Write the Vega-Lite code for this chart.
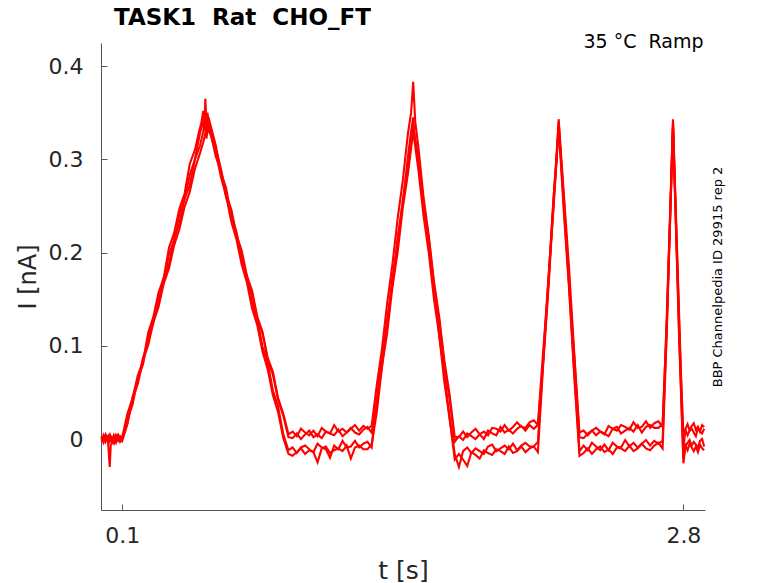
{
  "$schema": "https://vega.github.io/schema/vega-lite/v6.json",
  "description": "Ramp protocol current traces, TASK1 Rat CHO_FT",
  "width": 604,
  "height": 467,
  "autosize": {"type": "none"},
  "padding": {"left": 101, "top": 43, "right": 73, "bottom": 73},
  "background": "white",
  "config": {
    "view": {"stroke": null},
    "font": "DejaVu Sans",
    "axis": {"grid": false, "labelFont": "DejaVu Sans", "titleFont": "DejaVu Sans", "titleFontWeight": "normal"}
  },
  "title": {
    "text": "TASK1\u00a0\u00a0Rat\u00a0\u00a0CHO_FT",
    "anchor": "start",
    "frame": "group",
    "font": "DejaVu Sans",
    "fontSize": 23,
    "fontWeight": "bold",
    "color": "black",
    "baseline": "alphabetic",
    "dx": 13,
    "dy": 32,
    "offset": 16
  },
  "data": {
    "values": [
      {"k":"A","t":0,"i":0.003},{"k":"A","t":0.01,"i":-0.002},{"k":"A","t":0.02,"i":0.005},{"k":"A","t":0.03,"i":0.001},{"k":"A","t":0.04,"i":-0.003},{"k":"A","t":0.05,"i":0.002},{"k":"A","t":0.06,"i":-0.004},{"k":"A","t":0.07,"i":0.004},{"k":"A","t":0.08,"i":0.0},{"k":"A","t":0.09,"i":-0.002},{"k":"A","t":0.1,"i":0.002},
      {"k":"A","t":0.125,"i":0.027},{"k":"A","t":0.15,"i":0.044},{"k":"A","t":0.175,"i":0.068},{"k":"A","t":0.2,"i":0.083},{"k":"A","t":0.225,"i":0.114},{"k":"A","t":0.25,"i":0.131},{"k":"A","t":0.275,"i":0.157},{"k":"A","t":0.3,"i":0.173},{"k":"A","t":0.325,"i":0.205},{"k":"A","t":0.35,"i":0.221},{"k":"A","t":0.375,"i":0.247},{"k":"A","t":0.4,"i":0.263},{"k":"A","t":0.425,"i":0.295},{"k":"A","t":0.45,"i":0.31},{"k":"A","t":0.47,"i":0.33},{"k":"A","t":0.48,"i":0.338},{"k":"A","t":0.49,"i":0.352},{"k":"A","t":0.495,"i":0.33},{"k":"A","t":0.5,"i":0.365},{"k":"A","t":0.505,"i":0.34},{"k":"A","t":0.51,"i":0.35},{"k":"A","t":0.52,"i":0.335},
      {"k":"A","t":0.55,"i":0.312},{"k":"A","t":0.575,"i":0.29},{"k":"A","t":0.6,"i":0.262},{"k":"A","t":0.625,"i":0.246},{"k":"A","t":0.65,"i":0.219},{"k":"A","t":0.675,"i":0.202},{"k":"A","t":0.7,"i":0.175},{"k":"A","t":0.725,"i":0.159},{"k":"A","t":0.75,"i":0.131},{"k":"A","t":0.775,"i":0.115},{"k":"A","t":0.8,"i":0.087},{"k":"A","t":0.825,"i":0.072},{"k":"A","t":0.85,"i":0.044},{"k":"A","t":0.875,"i":0.027},{"k":"A","t":0.9,"i":0.005},
      {"k":"A","t":0.92,"i":0.008},{"k":"A","t":0.94,"i":0.003},{"k":"A","t":0.96,"i":0.011},{"k":"A","t":0.98,"i":0.007},{"k":"A","t":1.0,"i":0.004},{"k":"A","t":1.02,"i":0.009},{"k":"A","t":1.04,"i":0.003},{"k":"A","t":1.06,"i":0.012},{"k":"A","t":1.08,"i":0.008},{"k":"A","t":1.1,"i":0.006},{"k":"A","t":1.12,"i":0.015},{"k":"A","t":1.14,"i":0.008},{"k":"A","t":1.16,"i":0.011},{"k":"A","t":1.18,"i":0.007},{"k":"A","t":1.2,"i":0.011},{"k":"A","t":1.22,"i":0.015},{"k":"A","t":1.24,"i":0.009},{"k":"A","t":1.26,"i":0.014},{"k":"A","t":1.28,"i":0.011},{"k":"A","t":1.3,"i":0.014},
      {"k":"A","t":1.325,"i":0.058},{"k":"A","t":1.35,"i":0.097},{"k":"A","t":1.375,"i":0.146},{"k":"A","t":1.4,"i":0.187},{"k":"A","t":1.425,"i":0.236},{"k":"A","t":1.45,"i":0.277},{"k":"A","t":1.475,"i":0.328},{"k":"A","t":1.49,"i":0.35},{"k":"A","t":1.5,"i":0.383},{"k":"A","t":1.51,"i":0.34},{"k":"A","t":1.525,"i":0.313},{"k":"A","t":1.55,"i":0.259},{"k":"A","t":1.575,"i":0.218},{"k":"A","t":1.6,"i":0.169},{"k":"A","t":1.625,"i":0.131},{"k":"A","t":1.65,"i":0.084},{"k":"A","t":1.675,"i":0.048},{"k":"A","t":1.7,"i":0.002},
      {"k":"A","t":1.72,"i":0.002},{"k":"A","t":1.74,"i":0.008},{"k":"A","t":1.76,"i":0.002},{"k":"A","t":1.78,"i":0.007},{"k":"A","t":1.8,"i":0.011},{"k":"A","t":1.82,"i":0.005},{"k":"A","t":1.84,"i":0.008},{"k":"A","t":1.86,"i":0.004},{"k":"A","t":1.88,"i":0.012},{"k":"A","t":1.9,"i":0.011},{"k":"A","t":1.92,"i":0.008},{"k":"A","t":1.94,"i":0.015},{"k":"A","t":1.96,"i":0.009},{"k":"A","t":1.98,"i":0.013},{"k":"A","t":2.0,"i":0.018},{"k":"A","t":2.02,"i":0.013},{"k":"A","t":2.04,"i":0.012},{"k":"A","t":2.06,"i":0.018},{"k":"A","t":2.08,"i":0.02},{"k":"A","t":2.1,"i":0.015},
      {"k":"A","t":2.125,"i":0.093},{"k":"A","t":2.15,"i":0.167},{"k":"A","t":2.175,"i":0.258},{"k":"A","t":2.19,"i":0.3},{"k":"A","t":2.2,"i":0.343},{"k":"A","t":2.21,"i":0.31},{"k":"A","t":2.225,"i":0.262},{"k":"A","t":2.25,"i":0.183},{"k":"A","t":2.275,"i":0.092},{"k":"A","t":2.3,"i":0.007},
      {"k":"A","t":2.32,"i":0.009},{"k":"A","t":2.34,"i":0.004},{"k":"A","t":2.36,"i":0.009},{"k":"A","t":2.38,"i":0.012},{"k":"A","t":2.4,"i":0.008},{"k":"A","t":2.42,"i":0.005},{"k":"A","t":2.44,"i":0.014},{"k":"A","t":2.46,"i":0.011},{"k":"A","t":2.48,"i":0.009},{"k":"A","t":2.5,"i":0.015},{"k":"A","t":2.52,"i":0.013},{"k":"A","t":2.54,"i":0.01},{"k":"A","t":2.56,"i":0.018},{"k":"A","t":2.58,"i":0.012},{"k":"A","t":2.6,"i":0.013},{"k":"A","t":2.62,"i":0.019},{"k":"A","t":2.64,"i":0.012},{"k":"A","t":2.66,"i":0.017},{"k":"A","t":2.68,"i":0.019},{"k":"A","t":2.7,"i":0.013},
      {"k":"A","t":2.71,"i":0.07},{"k":"A","t":2.72,"i":0.13},{"k":"A","t":2.73,"i":0.2},{"k":"A","t":2.74,"i":0.27},{"k":"A","t":2.75,"i":0.343},{"k":"A","t":2.76,"i":0.27},{"k":"A","t":2.77,"i":0.2},{"k":"A","t":2.78,"i":0.13},{"k":"A","t":2.79,"i":0.06},{"k":"A","t":2.8,"i":0.005},
      {"k":"A","t":2.81,"i":0.011},{"k":"A","t":2.82,"i":0.016},{"k":"A","t":2.83,"i":0.009},{"k":"A","t":2.84,"i":0.014},{"k":"A","t":2.85,"i":0.017},{"k":"A","t":2.86,"i":0.01},{"k":"A","t":2.87,"i":0.013},{"k":"A","t":2.88,"i":0.008},{"k":"A","t":2.89,"i":0.015},{"k":"A","t":2.9,"i":0.013},

      {"k":"B","t":0,"i":-0.001},{"k":"B","t":0.01,"i":0.004},{"k":"B","t":0.02,"i":-0.003},{"k":"B","t":0.03,"i":0.002},{"k":"B","t":0.04,"i":0.005},{"k":"B","t":0.05,"i":-0.002},{"k":"B","t":0.06,"i":0.001},{"k":"B","t":0.07,"i":-0.004},{"k":"B","t":0.08,"i":0.003},{"k":"B","t":0.09,"i":0.001},{"k":"B","t":0.1,"i":-0.002},
      {"k":"B","t":0.125,"i":0.016},{"k":"B","t":0.15,"i":0.045},{"k":"B","t":0.175,"i":0.062},{"k":"B","t":0.2,"i":0.087},{"k":"B","t":0.225,"i":0.103},{"k":"B","t":0.25,"i":0.13},{"k":"B","t":0.275,"i":0.146},{"k":"B","t":0.3,"i":0.173},{"k":"B","t":0.325,"i":0.187},{"k":"B","t":0.35,"i":0.215},{"k":"B","t":0.375,"i":0.231},{"k":"B","t":0.4,"i":0.258},{"k":"B","t":0.425,"i":0.272},{"k":"B","t":0.45,"i":0.3},{"k":"B","t":0.475,"i":0.315},{"k":"B","t":0.49,"i":0.33},{"k":"B","t":0.5,"i":0.342},{"k":"B","t":0.51,"i":0.328},{"k":"B","t":0.52,"i":0.334},
      {"k":"B","t":0.55,"i":0.303},{"k":"B","t":0.575,"i":0.288},{"k":"B","t":0.6,"i":0.259},{"k":"B","t":0.625,"i":0.243},{"k":"B","t":0.65,"i":0.216},{"k":"B","t":0.675,"i":0.199},{"k":"B","t":0.7,"i":0.173},{"k":"B","t":0.725,"i":0.156},{"k":"B","t":0.75,"i":0.129},{"k":"B","t":0.775,"i":0.113},{"k":"B","t":0.8,"i":0.085},{"k":"B","t":0.825,"i":0.069},{"k":"B","t":0.85,"i":0.042},{"k":"B","t":0.875,"i":0.025},{"k":"B","t":0.9,"i":0.002},
      {"k":"B","t":0.92,"i":0.001},{"k":"B","t":0.94,"i":0.006},{"k":"B","t":0.96,"i":0.0},{"k":"B","t":0.98,"i":0.005},{"k":"B","t":1.0,"i":0.009},{"k":"B","t":1.02,"i":0.002},{"k":"B","t":1.04,"i":0.005},{"k":"B","t":1.06,"i":0.001},{"k":"B","t":1.08,"i":0.008},{"k":"B","t":1.1,"i":0.006},{"k":"B","t":1.12,"i":0.004},{"k":"B","t":1.14,"i":0.01},{"k":"B","t":1.16,"i":0.003},{"k":"B","t":1.18,"i":0.007},{"k":"B","t":1.2,"i":0.012},{"k":"B","t":1.22,"i":0.007},{"k":"B","t":1.24,"i":0.005},{"k":"B","t":1.26,"i":0.01},{"k":"B","t":1.28,"i":0.013},{"k":"B","t":1.3,"i":0.007},
      {"k":"B","t":1.325,"i":0.042},{"k":"B","t":1.35,"i":0.09},{"k":"B","t":1.375,"i":0.125},{"k":"B","t":1.4,"i":0.173},{"k":"B","t":1.425,"i":0.207},{"k":"B","t":1.45,"i":0.256},{"k":"B","t":1.475,"i":0.291},{"k":"B","t":1.5,"i":0.335},{"k":"B","t":1.51,"i":0.32},{"k":"B","t":1.525,"i":0.301},{"k":"B","t":1.55,"i":0.252},{"k":"B","t":1.575,"i":0.215},{"k":"B","t":1.6,"i":0.165},{"k":"B","t":1.625,"i":0.128},{"k":"B","t":1.65,"i":0.08},{"k":"B","t":1.675,"i":0.043},{"k":"B","t":1.7,"i":-0.003},
      {"k":"B","t":1.72,"i":0.003},{"k":"B","t":1.74,"i":-0.001},{"k":"B","t":1.76,"i":0.006},{"k":"B","t":1.78,"i":0.003},{"k":"B","t":1.8,"i":0.0},{"k":"B","t":1.82,"i":0.005},{"k":"B","t":1.84,"i":0.0},{"k":"B","t":1.86,"i":0.009},{"k":"B","t":1.88,"i":0.006},{"k":"B","t":1.9,"i":0.004},{"k":"B","t":1.92,"i":0.013},{"k":"B","t":1.94,"i":0.007},{"k":"B","t":1.96,"i":0.01},{"k":"B","t":1.98,"i":0.006},{"k":"B","t":2.0,"i":0.011},{"k":"B","t":2.02,"i":0.014},{"k":"B","t":2.04,"i":0.009},{"k":"B","t":2.06,"i":0.015},{"k":"B","t":2.08,"i":0.011},{"k":"B","t":2.1,"i":0.015},
      {"k":"B","t":2.125,"i":0.082},{"k":"B","t":2.15,"i":0.171},{"k":"B","t":2.175,"i":0.247},{"k":"B","t":2.2,"i":0.335},{"k":"B","t":2.225,"i":0.258},{"k":"B","t":2.25,"i":0.167},{"k":"B","t":2.275,"i":0.088},{"k":"B","t":2.3,"i":0.002},
      {"k":"B","t":2.32,"i":0.001},{"k":"B","t":2.34,"i":0.006},{"k":"B","t":2.36,"i":0.009},{"k":"B","t":2.38,"i":0.004},{"k":"B","t":2.4,"i":0.008},{"k":"B","t":2.42,"i":0.006},{"k":"B","t":2.44,"i":0.003},{"k":"B","t":2.46,"i":0.011},{"k":"B","t":2.48,"i":0.013},{"k":"B","t":2.5,"i":0.006},{"k":"B","t":2.52,"i":0.009},{"k":"B","t":2.54,"i":0.012},{"k":"B","t":2.56,"i":0.008},{"k":"B","t":2.58,"i":0.015},{"k":"B","t":2.6,"i":0.007},{"k":"B","t":2.62,"i":0.013},{"k":"B","t":2.64,"i":0.015},{"k":"B","t":2.66,"i":0.012},{"k":"B","t":2.68,"i":0.012},{"k":"B","t":2.7,"i":0.016},
      {"k":"B","t":2.72,"i":0.125},{"k":"B","t":2.735,"i":0.23},{"k":"B","t":2.75,"i":0.335},{"k":"B","t":2.765,"i":0.23},{"k":"B","t":2.78,"i":0.12},{"k":"B","t":2.8,"i":-0.01},
      {"k":"B","t":2.81,"i":0.01},{"k":"B","t":2.82,"i":0.004},{"k":"B","t":2.83,"i":0.009},{"k":"B","t":2.84,"i":0.011},{"k":"B","t":2.85,"i":0.007},{"k":"B","t":2.86,"i":0.003},{"k":"B","t":2.87,"i":0.012},{"k":"B","t":2.88,"i":0.008},{"k":"B","t":2.89,"i":0.006},{"k":"B","t":2.9,"i":0.011},

      {"k":"C","t":0,"i":0.002},{"k":"C","t":0.01,"i":-0.004},{"k":"C","t":0.02,"i":0.001},{"k":"C","t":0.03,"i":0.003},{"k":"C","t":0.04,"i":-0.03},{"k":"C","t":0.045,"i":-0.006},{"k":"C","t":0.05,"i":-0.005},{"k":"C","t":0.06,"i":0.004},{"k":"C","t":0.07,"i":0.0},{"k":"C","t":0.08,"i":-0.002},{"k":"C","t":0.09,"i":0.003},{"k":"C","t":0.1,"i":0.001},
      {"k":"C","t":0.125,"i":0.021},{"k":"C","t":0.15,"i":0.037},{"k":"C","t":0.175,"i":0.065},{"k":"C","t":0.2,"i":0.08},{"k":"C","t":0.225,"i":0.11},{"k":"C","t":0.25,"i":0.125},{"k":"C","t":0.275,"i":0.151},{"k":"C","t":0.3,"i":0.168},{"k":"C","t":0.325,"i":0.198},{"k":"C","t":0.35,"i":0.213},{"k":"C","t":0.375,"i":0.241},{"k":"C","t":0.4,"i":0.257},{"k":"C","t":0.425,"i":0.283},{"k":"C","t":0.45,"i":0.3},{"k":"C","t":0.475,"i":0.329},{"k":"C","t":0.49,"i":0.34},{"k":"C","t":0.5,"i":0.35},{"k":"C","t":0.505,"i":0.322},{"k":"C","t":0.515,"i":0.345},
      {"k":"C","t":0.55,"i":0.315},{"k":"C","t":0.575,"i":0.286},{"k":"C","t":0.6,"i":0.269},{"k":"C","t":0.625,"i":0.239},{"k":"C","t":0.65,"i":0.222},{"k":"C","t":0.675,"i":0.192},{"k":"C","t":0.7,"i":0.175},{"k":"C","t":0.725,"i":0.146},{"k":"C","t":0.75,"i":0.128},{"k":"C","t":0.775,"i":0.099},{"k":"C","t":0.8,"i":0.082},{"k":"C","t":0.825,"i":0.052},{"k":"C","t":0.85,"i":0.035},{"k":"C","t":0.875,"i":0.005},{"k":"C","t":0.9,"i":-0.012},
      {"k":"C","t":0.92,"i":-0.009},{"k":"C","t":0.94,"i":-0.015},{"k":"C","t":0.96,"i":-0.009},{"k":"C","t":0.98,"i":-0.007},{"k":"C","t":1.0,"i":-0.011},{"k":"C","t":1.02,"i":-0.014},{"k":"C","t":1.04,"i":-0.005},{"k":"C","t":1.06,"i":-0.009},{"k":"C","t":1.08,"i":-0.011},{"k":"C","t":1.1,"i":-0.02},{"k":"C","t":1.12,"i":-0.007},{"k":"C","t":1.14,"i":-0.011},{"k":"C","t":1.16,"i":-0.002},{"k":"C","t":1.18,"i":-0.009},{"k":"C","t":1.2,"i":-0.008},{"k":"C","t":1.22,"i":-0.002},{"k":"C","t":1.24,"i":-0.009},{"k":"C","t":1.26,"i":-0.005},{"k":"C","t":1.28,"i":-0.003},{"k":"C","t":1.3,"i":-0.009},
      {"k":"C","t":1.325,"i":0.04},{"k":"C","t":1.35,"i":0.078},{"k":"C","t":1.375,"i":0.128},{"k":"C","t":1.4,"i":0.166},{"k":"C","t":1.425,"i":0.216},{"k":"C","t":1.45,"i":0.254},{"k":"C","t":1.475,"i":0.303},{"k":"C","t":1.49,"i":0.33},{"k":"C","t":1.5,"i":0.345},{"k":"C","t":1.505,"i":0.33},{"k":"C","t":1.525,"i":0.295},{"k":"C","t":1.55,"i":0.255},{"k":"C","t":1.575,"i":0.203},{"k":"C","t":1.6,"i":0.163},{"k":"C","t":1.625,"i":0.111},{"k":"C","t":1.65,"i":0.071},{"k":"C","t":1.675,"i":0.022},{"k":"C","t":1.7,"i":-0.016},
      {"k":"C","t":1.72,"i":-0.03},{"k":"C","t":1.74,"i":-0.013},{"k":"C","t":1.76,"i":-0.009},{"k":"C","t":1.78,"i":-0.015},{"k":"C","t":1.8,"i":-0.01},{"k":"C","t":1.82,"i":-0.013},{"k":"C","t":1.84,"i":-0.016},{"k":"C","t":1.86,"i":-0.008},{"k":"C","t":1.88,"i":-0.006},{"k":"C","t":1.9,"i":-0.013},{"k":"C","t":1.92,"i":-0.01},{"k":"C","t":1.94,"i":-0.007},{"k":"C","t":1.96,"i":-0.011},{"k":"C","t":1.98,"i":-0.005},{"k":"C","t":2.0,"i":-0.012},{"k":"C","t":2.02,"i":-0.007},{"k":"C","t":2.04,"i":-0.004},{"k":"C","t":2.06,"i":-0.008},{"k":"C","t":2.08,"i":-0.008},{"k":"C","t":2.1,"i":-0.003},
      {"k":"C","t":2.125,"i":0.083},{"k":"C","t":2.15,"i":0.163},{"k":"C","t":2.175,"i":0.256},{"k":"C","t":2.2,"i":0.34},{"k":"C","t":2.225,"i":0.249},{"k":"C","t":2.25,"i":0.166},{"k":"C","t":2.275,"i":0.071},{"k":"C","t":2.3,"i":-0.013},
      {"k":"C","t":2.32,"i":-0.007},{"k":"C","t":2.34,"i":-0.012},{"k":"C","t":2.36,"i":-0.004},{"k":"C","t":2.38,"i":-0.008},{"k":"C","t":2.4,"i":-0.012},{"k":"C","t":2.42,"i":-0.006},{"k":"C","t":2.44,"i":-0.012},{"k":"C","t":2.46,"i":-0.004},{"k":"C","t":2.48,"i":-0.008},{"k":"C","t":2.5,"i":-0.009},{"k":"C","t":2.52,"i":-0.001},{"k":"C","t":2.54,"i":-0.008},{"k":"C","t":2.56,"i":-0.004},{"k":"C","t":2.58,"i":-0.009},{"k":"C","t":2.6,"i":-0.005},{"k":"C","t":2.62,"i":-0.001},{"k":"C","t":2.64,"i":-0.007},{"k":"C","t":2.66,"i":-0.002},{"k":"C","t":2.68,"i":-0.005},{"k":"C","t":2.7,"i":-0.002},
      {"k":"C","t":2.72,"i":0.12},{"k":"C","t":2.735,"i":0.23},{"k":"C","t":2.75,"i":0.34},{"k":"C","t":2.765,"i":0.225},{"k":"C","t":2.78,"i":0.11},{"k":"C","t":2.8,"i":-0.026},
      {"k":"C","t":2.81,"i":-0.008},{"k":"C","t":2.82,"i":-0.004},{"k":"C","t":2.83,"i":-0.001},{"k":"C","t":2.84,"i":-0.007},{"k":"C","t":2.85,"i":-0.003},{"k":"C","t":2.86,"i":-0.006},{"k":"C","t":2.87,"i":-0.009},{"k":"C","t":2.88,"i":-0.002},{"k":"C","t":2.89,"i":0.0},{"k":"C","t":2.9,"i":-0.008},

      {"k":"D","t":0,"i":-0.003},{"k":"D","t":0.01,"i":0.001},{"k":"D","t":0.02,"i":0.004},{"k":"D","t":0.03,"i":-0.002},{"k":"D","t":0.04,"i":0.002},{"k":"D","t":0.05,"i":-0.001},{"k":"D","t":0.06,"i":-0.004},{"k":"D","t":0.07,"i":0.003},{"k":"D","t":0.08,"i":0.005},{"k":"D","t":0.09,"i":-0.003},{"k":"D","t":0.1,"i":0.0},
      {"k":"D","t":0.125,"i":0.017},{"k":"D","t":0.15,"i":0.043},{"k":"D","t":0.175,"i":0.059},{"k":"D","t":0.2,"i":0.084},{"k":"D","t":0.225,"i":0.101},{"k":"D","t":0.25,"i":0.125},{"k":"D","t":0.275,"i":0.142},{"k":"D","t":0.3,"i":0.167},{"k":"D","t":0.325,"i":0.183},{"k":"D","t":0.35,"i":0.208},{"k":"D","t":0.375,"i":0.225},{"k":"D","t":0.4,"i":0.249},{"k":"D","t":0.425,"i":0.265},{"k":"D","t":0.45,"i":0.29},{"k":"D","t":0.475,"i":0.307},{"k":"D","t":0.49,"i":0.318},{"k":"D","t":0.5,"i":0.328},{"k":"D","t":0.51,"i":0.338},{"k":"D","t":0.52,"i":0.33},
      {"k":"D","t":0.55,"i":0.308},{"k":"D","t":0.575,"i":0.281},{"k":"D","t":0.6,"i":0.261},{"k":"D","t":0.625,"i":0.233},{"k":"D","t":0.65,"i":0.214},{"k":"D","t":0.675,"i":0.187},{"k":"D","t":0.7,"i":0.168},{"k":"D","t":0.725,"i":0.14},{"k":"D","t":0.75,"i":0.122},{"k":"D","t":0.775,"i":0.094},{"k":"D","t":0.8,"i":0.075},{"k":"D","t":0.825,"i":0.047},{"k":"D","t":0.85,"i":0.029},{"k":"D","t":0.875,"i":0.001},{"k":"D","t":0.9,"i":-0.016},
      {"k":"D","t":0.92,"i":-0.018},{"k":"D","t":0.94,"i":-0.014},{"k":"D","t":0.96,"i":-0.01},{"k":"D","t":0.98,"i":-0.016},{"k":"D","t":1.0,"i":-0.012},{"k":"D","t":1.02,"i":-0.014},{"k":"D","t":1.04,"i":-0.025},{"k":"D","t":1.06,"i":-0.01},{"k":"D","t":1.08,"i":-0.008},{"k":"D","t":1.1,"i":-0.015},{"k":"D","t":1.12,"i":-0.012},{"k":"D","t":1.14,"i":-0.01},{"k":"D","t":1.16,"i":-0.013},{"k":"D","t":1.18,"i":-0.007},{"k":"D","t":1.2,"i":-0.021},{"k":"D","t":1.22,"i":-0.009},{"k":"D","t":1.24,"i":-0.007},{"k":"D","t":1.26,"i":-0.011},{"k":"D","t":1.28,"i":-0.011},{"k":"D","t":1.3,"i":-0.006},
      {"k":"D","t":1.325,"i":0.029},{"k":"D","t":1.35,"i":0.078},{"k":"D","t":1.375,"i":0.114},{"k":"D","t":1.4,"i":0.163},{"k":"D","t":1.425,"i":0.2},{"k":"D","t":1.45,"i":0.248},{"k":"D","t":1.475,"i":0.285},{"k":"D","t":1.5,"i":0.33},{"k":"D","t":1.525,"i":0.289},{"k":"D","t":1.55,"i":0.239},{"k":"D","t":1.575,"i":0.2},{"k":"D","t":1.6,"i":0.15},{"k":"D","t":1.625,"i":0.112},{"k":"D","t":1.65,"i":0.061},{"k":"D","t":1.675,"i":0.023},{"k":"D","t":1.7,"i":-0.022},
      {"k":"D","t":1.72,"i":-0.016},{"k":"D","t":1.74,"i":-0.022},{"k":"D","t":1.76,"i":-0.029},{"k":"D","t":1.78,"i":-0.014},{"k":"D","t":1.8,"i":-0.017},{"k":"D","t":1.82,"i":-0.021},{"k":"D","t":1.84,"i":-0.012},{"k":"D","t":1.86,"i":-0.015},{"k":"D","t":1.88,"i":-0.017},{"k":"D","t":1.9,"i":-0.011},{"k":"D","t":1.92,"i":-0.013},{"k":"D","t":1.94,"i":-0.016},{"k":"D","t":1.96,"i":-0.008},{"k":"D","t":1.98,"i":-0.015},{"k":"D","t":2.0,"i":-0.013},{"k":"D","t":2.02,"i":-0.008},{"k":"D","t":2.04,"i":-0.014},{"k":"D","t":2.06,"i":-0.01},{"k":"D","t":2.08,"i":-0.008},{"k":"D","t":2.1,"i":-0.014},
      {"k":"D","t":2.125,"i":0.078},{"k":"D","t":2.15,"i":0.159},{"k":"D","t":2.175,"i":0.251},{"k":"D","t":2.2,"i":0.335},{"k":"D","t":2.225,"i":0.243},{"k":"D","t":2.25,"i":0.161},{"k":"D","t":2.275,"i":0.067},{"k":"D","t":2.3,"i":-0.018},
      {"k":"D","t":2.32,"i":-0.015},{"k":"D","t":2.34,"i":-0.01},{"k":"D","t":2.36,"i":-0.016},{"k":"D","t":2.38,"i":-0.011},{"k":"D","t":2.4,"i":-0.008},{"k":"D","t":2.42,"i":-0.014},{"k":"D","t":2.44,"i":-0.011},{"k":"D","t":2.46,"i":-0.016},{"k":"D","t":2.48,"i":-0.009},{"k":"D","t":2.5,"i":-0.01},{"k":"D","t":2.52,"i":-0.013},{"k":"D","t":2.54,"i":-0.007},{"k":"D","t":2.56,"i":-0.013},{"k":"D","t":2.58,"i":-0.01},{"k":"D","t":2.6,"i":-0.005},{"k":"D","t":2.62,"i":-0.01},{"k":"D","t":2.64,"i":-0.012},{"k":"D","t":2.66,"i":-0.007},{"k":"D","t":2.68,"i":-0.004},{"k":"D","t":2.7,"i":-0.01},
      {"k":"D","t":2.72,"i":0.115},{"k":"D","t":2.735,"i":0.225},{"k":"D","t":2.75,"i":0.335},{"k":"D","t":2.765,"i":0.22},{"k":"D","t":2.78,"i":0.105},{"k":"D","t":2.8,"i":-0.02},
      {"k":"D","t":2.81,"i":-0.007},{"k":"D","t":2.82,"i":-0.012},{"k":"D","t":2.83,"i":-0.005},{"k":"D","t":2.84,"i":-0.009},{"k":"D","t":2.85,"i":-0.013},{"k":"D","t":2.86,"i":-0.008},{"k":"D","t":2.87,"i":-0.014},{"k":"D","t":2.88,"i":-0.006},{"k":"D","t":2.89,"i":-0.01},{"k":"D","t":2.9,"i":-0.012}
    ]
  },
  "layer": [
    {
      "mark": {"type": "line", "color": "#ff0000", "strokeWidth": 2.1},
      "encoding": {
        "x": {
          "field": "t",
          "type": "quantitative",
          "scale": {"domain": [-0.002, 2.904], "nice": false, "zero": false},
          "axis": {
            "orient": "bottom",
            "values": [0.1, 2.8],
            "format": ".1f",
            "domainColor": "#555555",
            "tickColor": "#555555",
            "tickSize": -6,
            "labelFontSize": 22,
            "labelColor": "#262626",
            "labelPadding": 21,
            "labelFlush": false,
            "title": "t [s]",
            "titleFontSize": 25,
            "titleColor": "#262626",
            "titleX": 302,
            "titleY": 68,
            "titleAlign": "center",
            "titleBaseline": "alphabetic"
          }
        },
        "y": {
          "field": "i",
          "type": "quantitative",
          "scale": {"domain": [-0.0761, 0.4247], "nice": false, "zero": false},
          "axis": {
            "orient": "left",
            "values": [0, 0.1, 0.2, 0.3, 0.4],
            "format": ".1~f",
            "domainColor": "#555555",
            "tickColor": "#555555",
            "tickSize": -6,
            "labelFontSize": 22,
            "labelColor": "#262626",
            "labelPadding": 24,
            "title": "I [nA]",
            "titleFontSize": 24,
            "titleColor": "#262626",
            "titleAngle": 270,
            "titleX": -73,
            "titleY": 233.5,
            "titleAlign": "center",
            "titleBaseline": "middle"
          }
        },
        "detail": {"field": "k"}
      }
    },
    {
      "mark": {"type": "line", "opacity": 0},
      "encoding": {
        "x": {
          "field": "t",
          "type": "quantitative",
          "axis": {
            "orient": "top",
            "domain": false,
            "ticks": false,
            "labels": false,
            "title": "35 °C\u00a0\u00a0Ramp",
            "titleFontSize": 19,
            "titleColor": "black",
            "titleX": 602,
            "titleY": 4,
            "titleAlign": "right",
            "titleBaseline": "alphabetic"
          }
        },
        "y": {
          "field": "i",
          "type": "quantitative",
          "axis": {
            "orient": "right",
            "domain": false,
            "ticks": false,
            "labels": false,
            "title": "BBP Channelpedia ID 29915 rep 2",
            "titleFontSize": 13,
            "titleColor": "black",
            "titleAngle": 270,
            "titleX": 12,
            "titleY": 233.5,
            "titleAlign": "center",
            "titleBaseline": "middle"
          }
        },
        "detail": {"field": "k"}
      }
    }
  ],
  "resolve": {"axis": {"x": "independent", "y": "independent"}}
}
